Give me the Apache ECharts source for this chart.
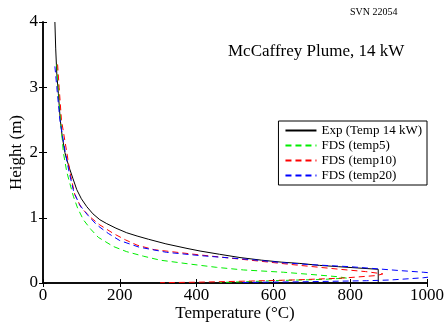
<!DOCTYPE html>
<html>
<head>
<meta charset="utf-8">
<script src="https://cdn.jsdelivr.net/npm/echarts@6/dist/echarts.min.js"></script>
<style>
html, body { margin: 0; padding: 0; background: #fff; }
#main { width: 445px; height: 329px; }
</style>
</head>
<body>
<div id="main"></div>
<script>
// [temperature, height] pairs
var expTemp = [[31, 4.0], [33, 3.6], [36, 3.2], [40, 2.9], [45, 2.5], [50, 2.25], [57, 2.0], [63, 1.87],
    [70, 1.74], [78, 1.6], [88, 1.43], [100, 1.29], [114, 1.17], [130, 1.06], [148, 0.97], [166, 0.91],
    [190, 0.84], [218, 0.77], [245, 0.72], [275, 0.67], [320, 0.6], [375, 0.53], [409, 0.49],
    [460, 0.44], [513, 0.39], [569, 0.35], [620, 0.32], [669, 0.30], [720, 0.27], [770, 0.25],
    [820, 0.23], [873, 0.21], [873, 0]];
var fdsTemp5 = [[36, 3.35], [40, 3.0], [46, 2.5], [53, 2.0], [62, 1.7], [79, 1.33], [90, 1.15], [105, 0.97],
    [125, 0.82], [144, 0.70], [183, 0.56], [218, 0.48], [262, 0.41], [305, 0.35], [383, 0.29], [452, 0.24],
    [522, 0.2], [626, 0.165], [721, 0.12], [770, 0.095], [790, 0.075], [730, 0.055], [660, 0.045],
    [600, 0.035], [530, 0.02], [460, 0.008]];
var fdsTemp10 = [[38, 3.35], [42, 3.0], [48, 2.5], [62, 2.0], [70, 1.7], [83, 1.35], [100, 1.15], [125, 1.0],
    [148, 0.89], [183, 0.76], [215, 0.66], [245, 0.58], [290, 0.51], [409, 0.43], [539, 0.35],
    [669, 0.27], [773, 0.21], [840, 0.175], [885, 0.14], [870, 0.115], [780, 0.075], [660, 0.048],
    [540, 0.03], [400, 0.012], [305, 0.005]];
var fdsTemp20 = [[31, 3.32], [36, 3.0], [44, 2.5], [58, 2.0], [68, 1.7], [80, 1.4], [95, 1.2], [115, 1.05],
    [140, 0.89], [170, 0.76], [200, 0.65], [250, 0.55], [322, 0.47], [409, 0.42], [539, 0.36],
    [626, 0.31], [700, 0.28], [800, 0.25], [930, 0.19], [990, 0.165], [1060, 0.13], [1060, 0.1],
    [990, 0.08], [904, 0.046], [843, 0.035], [669, 0.018], [513, 0.008]];

var serif = 'Liberation Serif';
var myChart = echarts.init(document.getElementById('main'));

function dashed(name, color, data) {
    return {
        name: name,
        type: 'line',
        data: data,
        symbol: 'none',
        clip: true,
        lineStyle: { color: color, width: 1, type: [6, 4] },
        itemStyle: { color: color }
    };
}

var option = {
    animation: false,
    backgroundColor: '#fff',
    title: [
        {
            text: 'McCaffrey Plume, 14 kW',
            left: 223, top: 38,
            textStyle: { fontFamily: serif, fontSize: 17, fontWeight: 'normal', color: '#000' }
        },
        {
            text: 'SVN 22054',
            left: 345, top: 2,
            textStyle: { fontFamily: serif, fontSize: 10, fontWeight: 'normal', color: '#000' }
        }
    ],
    legend: {
        orient: 'vertical',
        right: 18,
        top: 121,
        itemWidth: 31,
        itemHeight: 8,
        itemGap: 0,
        padding: [2, 5, 2, 6],
        borderColor: '#000',
        borderWidth: 1,
        itemStyle: { opacity: 0 },
        textStyle: { fontFamily: serif, fontSize: 13, lineHeight: 15, color: '#000' },
        data: ['Exp (Temp 14 kW)', 'FDS (temp5)', 'FDS (temp10)', 'FDS (temp20)']
    },
    grid: {
        left: 43,
        right: 18,
        top: 22,
        bottom: 46,
        outerBoundsMode: 'none'
    },
    xAxis: [
        {
            type: 'value',
            min: 0,
            max: 1000,
            interval: 200,
            name: 'Temperature (°C)',
            nameLocation: 'middle',
            nameGap: 22,
            nameMoveOverlap: false,
            nameTextStyle: { fontFamily: serif, fontSize: 17, color: '#000' },
            axisLine: { show: true, lineStyle: { color: '#000', width: 1.5 } },
            axisTick: { inside: true, length: 4, lineStyle: { color: '#000' } },
            axisLabel: {
                fontFamily: serif, fontSize: 17, color: '#000', margin: 4,
                formatter: function (v) { return String(v); }
            },
            splitLine: { show: false }
        },
        {
            type: 'value',
            position: 'top',
            min: 0,
            max: 1000,
            interval: 200,
            axisLine: { show: true, lineStyle: { color: '#000', width: 1.5 } },
            axisTick: { inside: true, length: 4, lineStyle: { color: '#000' } },
            axisLabel: { show: false },
            splitLine: { show: false }
        }
    ],
    yAxis: [
        {
            type: 'value',
            min: 0,
            max: 4,
            interval: 1,
            name: 'Height (m)',
            nameLocation: 'middle',
            nameGap: 18,
            nameMoveOverlap: false,
            nameTextStyle: { fontFamily: serif, fontSize: 17, color: '#000' },
            axisLine: { show: true, lineStyle: { color: '#000', width: 1.5 } },
            axisTick: { inside: true, length: 4, lineStyle: { color: '#000' } },
            axisLabel: { fontFamily: serif, fontSize: 17, color: '#000', margin: 5 },
            splitLine: { show: false }
        },
        {
            type: 'value',
            position: 'right',
            min: 0,
            max: 4,
            interval: 1,
            axisLine: { show: true, lineStyle: { color: '#000', width: 1.5 } },
            axisTick: { inside: true, length: 4, lineStyle: { color: '#000' } },
            axisLabel: { show: false },
            splitLine: { show: false }
        }
    ],
    series: [
        {
            name: 'Exp (Temp 14 kW)',
            type: 'line',
            data: expTemp,
            symbol: 'none',
            clip: true,
            lineStyle: { color: '#000', width: 1 },
            itemStyle: { color: '#000' }
        },
        dashed('FDS (temp5)', '#00ee00', fdsTemp5),
        dashed('FDS (temp10)', '#ff0000', fdsTemp10),
        dashed('FDS (temp20)', '#0000ff', fdsTemp20)
    ]
};

myChart.setOption(option);
</script>
</body>
</html>
